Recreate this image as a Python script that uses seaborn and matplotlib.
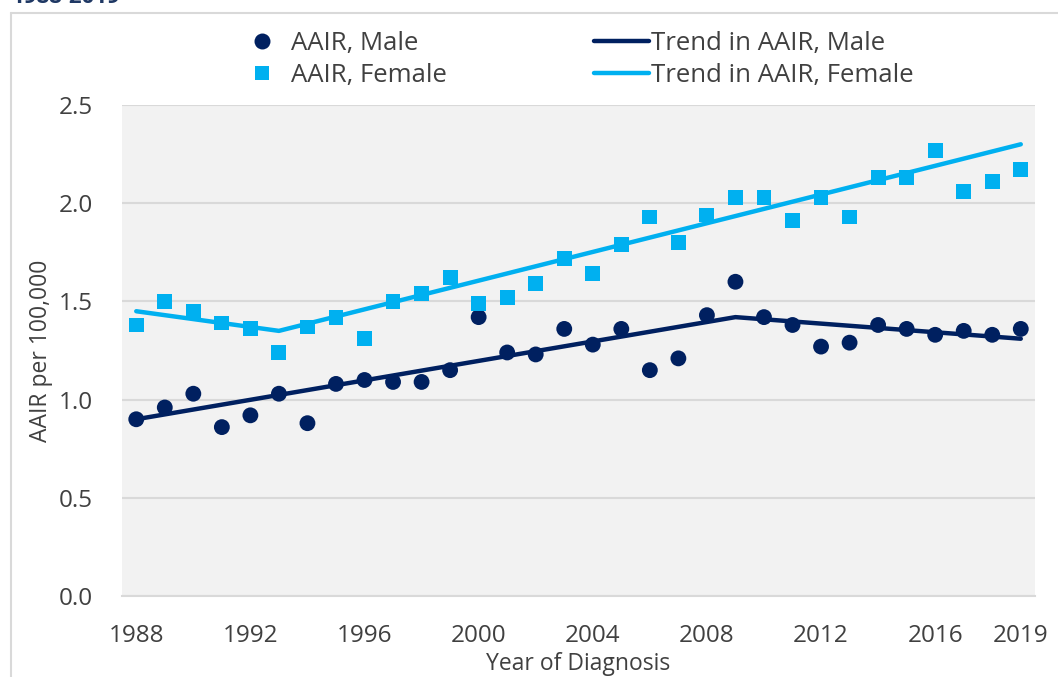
import numpy as np
import pandas as pd
import matplotlib
matplotlib.use("Agg")
import matplotlib.pyplot as plt
from matplotlib.lines import Line2D
import seaborn as sns

# -------------------------
# data
# -------------------------
years = list(range(1988, 2020))
aair_male = [0.90, 0.96, 1.03, 0.86, 0.92, 1.03, 0.88, 1.08, 1.10, 1.09,
             1.09, 1.15, 1.42, 1.24, 1.23, 1.36, 1.28, 1.36, 1.15, 1.21,
             1.43, 1.60, 1.42, 1.38, 1.27, 1.29, 1.38, 1.36, 1.33, 1.35,
             1.33, 1.36]
aair_female = [1.38, 1.50, 1.45, 1.39, 1.36, 1.24, 1.37, 1.42, 1.31, 1.50,
               1.54, 1.62, 1.49, 1.52, 1.59, 1.72, 1.64, 1.79, 1.93, 1.80,
               1.94, 2.03, 2.03, 1.91, 2.03, 1.93, 2.13, 2.13, 2.27, 2.06,
               2.11, 2.17]

# joinpoint trend vertices
trend_male_years = [1988, 2009, 2019]
trend_male = [0.90, 1.42, 1.31]
trend_female_years = [1988, 1993, 2019]
trend_female = [1.45, 1.35, 2.30]

xtick_years = [1988, 1992, 1996, 2000, 2004, 2008, 2012, 2016, 2019]

navy = "#002060"
light_blue = "#00B0F0"
text_col = "#404040"
grid_col = "#d9d9d9"

sns.set_theme(style="white")
plt.rcParams['font.family'] = ['Open Sans', 'DejaVu Sans']

df = pd.DataFrame({"year": years, "male": aair_male, "female": aair_female})

fig = plt.figure(figsize=(10.58, 6.77), dpi=100)
ax = fig.add_axes([0.1153, 0.1196, 0.8630, 0.7253])
ax.set_facecolor("#f2f2f2")

# trend lines
sns.lineplot(x=trend_male_years, y=trend_male, ax=ax, color=navy,
             linewidth=3.2, solid_capstyle="round", zorder=3)
sns.lineplot(x=trend_female_years, y=trend_female, ax=ax, color=light_blue,
             linewidth=3.2, solid_capstyle="round", zorder=3)

# observed AAIR
sns.scatterplot(data=df, x="year", y="male", ax=ax, marker="o", s=130,
                color=navy, edgecolor="none", zorder=4)
sns.scatterplot(data=df, x="year", y="female", ax=ax, marker="s", s=115,
                color=light_blue, edgecolor="none", zorder=4)

ax.set_xlim(1987.5, 2019.5)
ax.set_ylim(0, 2.5)
ax.set_yticks(np.arange(0, 2.51, 0.5))
ax.set_yticklabels([f"{v:.1f}" for v in np.arange(0, 2.51, 0.5)])
ax.set_xticks(xtick_years)
ax.set_xticks(np.arange(1987.5, 2020, 1.0), minor=True)
ax.tick_params(axis="x", which="major", length=0, pad=20, labelsize=17.5,
               labelcolor=text_col)
ax.tick_params(axis="x", which="minor", length=8, width=1.2, color=grid_col,
               direction="out")
ax.tick_params(axis="y", length=0, pad=21, labelsize=17.5, labelcolor=text_col)
ax.grid(axis="y", color=grid_col, linewidth=1.5)
ax.set_axisbelow(True)
for side in ["top", "right", "left"]:
    ax.spines[side].set_visible(False)
ax.spines["bottom"].set_color(grid_col)
ax.spines["bottom"].set_linewidth(1.5)

ax.set_xlabel("Year of Diagnosis", fontsize=16.5, color=text_col, labelpad=3)
ax.set_ylabel("AAIR per 100,000", fontsize=16.5, color=text_col, labelpad=4)

# legend
handles = [
    Line2D([], [], marker="o", linestyle="none", markersize=11.5, color=navy,
           markeredgewidth=0),
    Line2D([], [], marker="s", linestyle="none", markersize=10.5,
           color=light_blue, markeredgewidth=0),
    Line2D([], [], color=navy, linewidth=3.2, solid_capstyle="round"),
    Line2D([], [], color=light_blue, linewidth=3.2, solid_capstyle="round"),
]
labels = ["AAIR, Male", "AAIR, Female", "Trend in AAIR, Male",
          "Trend in AAIR, Female"]
leg = fig.legend(handles, labels, ncol=2, loc="center",
                 bbox_to_anchor=(0.5425, 0.912), frameon=False, fontsize=18.5,
                 handlelength=2.15, handletextpad=0.08, columnspacing=5.7,
                 labelspacing=0.27, labelcolor=text_col)

# outer chart border (partially visible)
fig.add_artist(Line2D([11 / 1058, 1.0], [1 - 13 / 677, 1 - 13 / 677],
                      color=grid_col, linewidth=1.5))
fig.add_artist(Line2D([11 / 1058, 11 / 1058], [0, 1 - 13 / 677],
                      color=grid_col, linewidth=1.5))

# cut-off title at the very top
fig.text(12 / 1058, 1 - 3 / 677, "1988-2019", fontsize=16, fontweight="bold",
         color="#1f3864", va="baseline", ha="left")

fig.savefig("out.png", dpi=100)
